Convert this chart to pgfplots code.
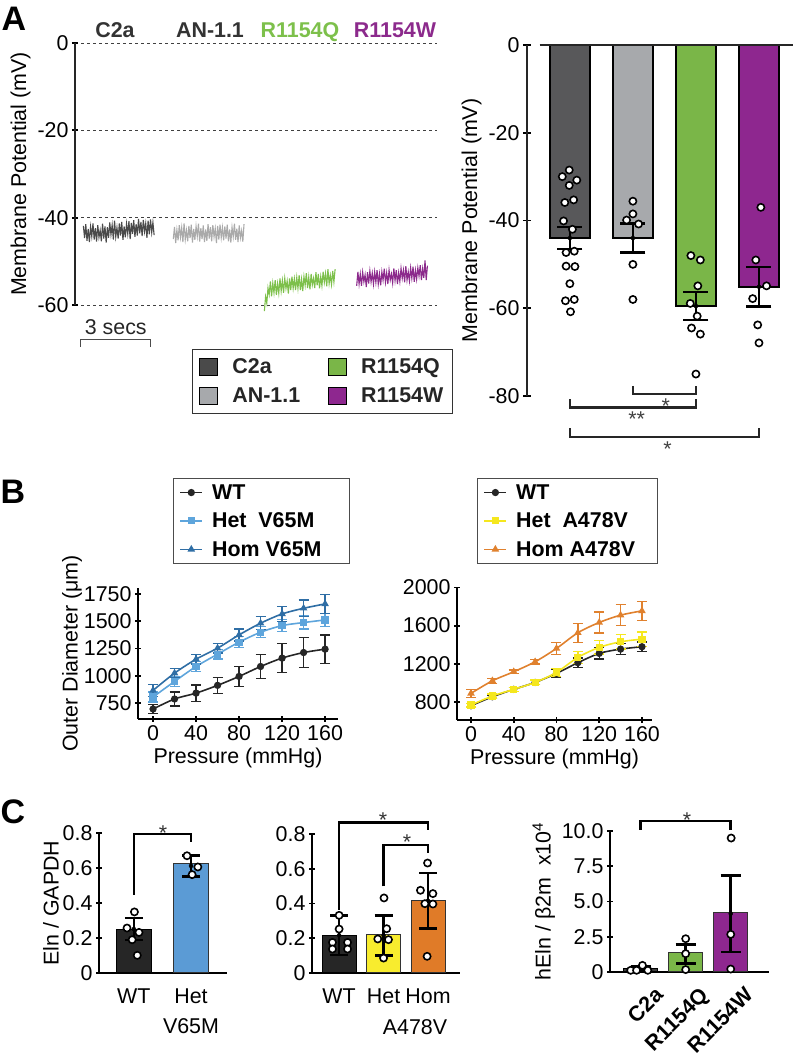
\documentclass[border=0pt]{standalone}
\usepackage{fontspec}
\setmainfont{Liberation Sans}
\usepackage{pgfplots}
\pgfplotsset{compat=1.18}
\newcommand\fs{\fontsize{21.4}{25}\selectfont}

\definecolor{trC}{HTML}{4A4A4A}
\definecolor{trA}{HTML}{AAAAAA}
\definecolor{trQ}{HTML}{7DC04B}
\definecolor{trW}{HTML}{8C2A8C}
\definecolor{barC}{HTML}{58585A}
\definecolor{barA}{HTML}{A7A9AC}
\definecolor{barQ}{HTML}{7AB648}
\definecolor{barW}{HTML}{8E278F}
\definecolor{wt}{HTML}{262626}
\definecolor{lblue}{HTML}{5EA5DC}
\definecolor{dblue}{HTML}{2F6EA5}
\definecolor{yel}{HTML}{F5E71E}
\definecolor{ora}{HTML}{E0812E}
\definecolor{cblue}{HTML}{5B9BD5}
\definecolor{cyel}{HTML}{F8EC2E}
\definecolor{cora}{HTML}{E07B28}
\definecolor{cgray}{HTML}{3D3D3D}

\pgfplotsset{
  base/.style={scale only axis, clip=false,
    axis line style={line width=2pt, black},
    tick style={line width=1.8pt, black}, major tick length=6pt, tick align=outside,
    tick label style={font=\fs}, label style={font=\fs},
    /pgf/number format/assume math mode=true,
    /pgf/number format/1000 sep={}, scaled ticks=false},
  noarr/.style={axis line style={-},
    every inner x axis line/.append style={-},
    every inner y axis line/.append style={-},
    every outer x axis line/.append style={-},
    every outer y axis line/.append style={-}},
  dots/.style={only marks, mark=*, mark size=3.6pt,
    mark options={fill=white, draw=black, line width=1.6pt}},
  errs/.style={only marks, mark=none, error bars/.cd, y dir=both, y explicit,
    error bar style={draw=black, line width=2.5pt},
    error mark options={rotate=90, mark size=#1, line width=2.5pt, draw=black}},
  curve/.style={line width=1.6pt, smooth, mark size=2.8pt, error bars/.cd,
    y dir=both, y explicit, error bar style={line width=1.3pt},
    error mark options={rotate=90, mark size=5pt, line width=1.3pt}},
  blegend/.style={legend style={font=\fs\bfseries, draw=black!70, line width=1pt,
    row sep=8pt, inner xsep=6pt, inner ysep=4pt,
    /tikz/every odd column/.append style={column sep=7pt}},
    legend cell align=left,
    legend image code/.code={\draw[mark repeat=2,mark phase=2,##1]
      plot coordinates {(0pt,0pt)(11pt,0pt)(22pt,0pt)};}},
  cticks/.style={xticklabel style={yshift=-9pt}},
}

\begin{document}
\begin{tikzpicture}[x=1pt,y=1pt]
\useasboundingbox (0,0) rectangle (793,1059);

% ---------- A: traces ----------
\begin{axis}[base, at={(75pt,754pt)}, anchor=south west, width=362pt, height=262pt,
  xmin=0, xmax=302, ymin=-60, ymax=0,
  axis y line=left, axis x line=none,
  y axis line style={line width=2.8pt, black!85},
  ytick={-60,-40,-20,0}, ymajorgrids,
  grid style={dashed, black!75, line width=0.9pt},
  ylabel={Membrane Potential (mV)},
  legend columns=2, legend cell align=left,
  legend style={at={(axis description cs:0.323,-0.168)}, anchor=north west,
    draw=black!80, line width=1pt, font=\fs\bfseries, text=black!85,
    /tikz/every odd column/.append style={column sep=12pt},
    /tikz/every even column/.append style={column sep=26pt},
    inner xsep=7pt, inner ysep=7pt, row sep=9pt},
  legend image code/.code={\fill[#1] (0pt,-8.5pt) rectangle (18pt,8.5pt);}, noarr]
\addlegendimage{fill=trC}\addlegendentry{C2a}
\addlegendimage{fill=barQ}\addlegendentry{R1154Q}
\addlegendimage{fill=barA}\addlegendentry{AN-1.1}
\addlegendimage{fill=barW}\addlegendentry{R1154W}

\addplot[trC, line width=1.1pt, forget plot] coordinates {
(7,-41.9)(8,-44.7)(9,-41.5)(10,-45.3)(11,-42.6)(12,-45.6)(13,-42.1)(14,-44.3)(15,-41.3)(16,-45.0)
(17,-42.4)(18,-45.5)(19,-41.7)(20,-44.5)(21,-42.9)(22,-45.4)(23,-41.4)(24,-44.8)(25,-42.0)(26,-45.7)
(27,-42.2)(28,-44.6)(29,-41.1)(30,-43.9)(31,-41.7)(32,-45.0)(33,-40.7)(34,-44.4)(35,-42.3)(36,-44.8)
(37,-41.3)(38,-44.1)(39,-41.0)(40,-45.1)(41,-42.0)(42,-44.5)(43,-41.4)(44,-43.7)(45,-40.8)(46,-44.9)
(47,-41.2)(48,-43.7)(49,-40.6)(50,-44.4)(51,-41.5)(52,-44.1)(53,-40.3)(54,-43.6)(55,-41.0)(56,-44.2)
(57,-40.5)(58,-43.2)(59,-41.3)(60,-44.6)(61,-40.7)(62,-43.8)(63,-40.4)(64,-43.4)(65,-41.1)(66,-44.0)};
\addplot[trA, line width=1.1pt, forget plot] coordinates {
(82,-44.9)(83,-42.1)(84,-45.8)(85,-42.8)(86,-45.2)(87,-41.7)(88,-44.5)(89,-42.3)(90,-45.6)(91,-41.3)
(92,-45.0)(93,-42.9)(94,-45.4)(95,-41.9)(96,-44.7)(97,-41.6)(98,-45.7)(99,-42.6)(100,-45.1)(101,-42.0)
(102,-44.3)(103,-41.4)(104,-45.5)(105,-42.4)(106,-44.9)(107,-41.8)(108,-45.6)(109,-42.7)(110,-45.3)(111,-41.5)
(112,-44.8)(113,-42.2)(114,-45.4)(115,-41.7)(116,-44.4)(117,-42.5)(118,-45.8)(119,-41.9)(120,-45.0)(121,-41.6)
(122,-44.6)(123,-42.3)(124,-45.2)(125,-42.0)(126,-44.8)(127,-41.6)(128,-45.4)(129,-42.7)(130,-45.7)(131,-42.2)
(132,-44.4)(133,-41.4)(134,-45.1)(135,-42.5)(136,-45.6)(137,-41.8)(138,-44.6)(139,-43.0)(140,-45.5)(141,-41.5)};
\addplot[trQ, line width=1.1pt, forget plot] coordinates {
(158,-61.4)(159,-58.1)(160,-59.6)(161,-56.1)(162,-57.6)(163,-54.6)(164,-58.0)(165,-55.0)(166,-57.2)(167,-54.3)
(168,-57.7)(169,-55.1)(170,-57.3)(171,-53.9)(172,-56.8)(173,-54.4)(174,-57.2)(175,-53.9)(176,-56.2)(177,-54.5)
(178,-57.4)(179,-53.9)(180,-56.6)(181,-53.5)(182,-56.2)(183,-54.0)(184,-56.6)(185,-53.7)(186,-56.2)(187,-53.2)
(188,-56.6)(189,-54.1)(190,-56.8)(191,-53.5)(192,-55.5)(193,-52.7)(194,-56.1)(195,-53.6)(196,-56.4)(197,-52.9)
(198,-55.4)(199,-53.9)(200,-56.1)(201,-52.5)(202,-55.5)(203,-52.9)(204,-56.2)(205,-53.5)(206,-55.6)(207,-52.4)
(208,-54.8)(209,-52.8)(210,-55.7)(211,-51.8)(212,-55.1)(213,-53.2)(214,-55.3)(215,-52.2)(216,-54.7)(217,-51.8)};
\addplot[trW, line width=1.1pt, forget plot] coordinates {
(235,-55.6)(236,-52.4)(237,-55.2)(238,-52.9)(239,-55.6)(240,-52.5)(241,-54.7)(242,-53.1)(243,-55.9)(244,-52.5)
(245,-55.1)(246,-52.2)(247,-54.7)(248,-52.7)(249,-55.2)(250,-52.4)(251,-54.8)(252,-52.0)(253,-55.2)(254,-52.9)
(255,-55.5)(256,-52.4)(257,-54.3)(258,-51.7)(259,-54.8)(260,-52.6)(261,-55.2)(262,-52.0)(263,-54.3)(264,-52.9)
(265,-55.0)(266,-51.6)(267,-54.4)(268,-52.0)(269,-55.2)(270,-52.6)(271,-54.6)(272,-51.6)(273,-53.9)(274,-52.0)
(275,-54.8)(276,-51.1)(277,-54.3)(278,-52.4)(279,-54.5)(280,-51.5)(281,-53.9)(282,-51.2)(283,-54.7)(284,-52.0)
(285,-54.1)(286,-51.5)(287,-53.4)(288,-50.9)(289,-54.3)(290,-51.7)(291,-53.8)(292,-49.8)(293,-54.3)(294,-51.0)};

\draw[line width=1pt, black!70] (axis cs:5,-69.6) -- (axis cs:5,-67.8) -- (axis cs:63.4,-67.8) -- (axis cs:63.4,-69.6);
\node[font=\fs, text=black!85] at (axis cs:34,-65) {3 secs};
\end{axis}

% ---------- A: bars ----------
\begin{axis}[base, at={(527pt,663pt)}, anchor=south west, width=266pt, height=351pt,
  xmin=-0.68, xmax=3.54, ymin=-80, ymax=0,
  axis y line=left, axis x line=none, major tick length=8pt,
  y axis line style={line width=2.5pt, black!85},
  ytick={-80,-60,-40,-20,0},
  ylabel={Membrane Potential (mV)}, noarr]
\addplot[ybar, bar width=40pt, bar shift=0pt, fill=barC, draw=black, line width=2pt] coordinates {(0,-44.0)};
\addplot[ybar, bar width=40pt, bar shift=0pt, fill=barA, draw=black, line width=2pt] coordinates {(1,-44.0)};
\addplot[ybar, bar width=40pt, bar shift=0pt, fill=barQ, draw=black, line width=2pt] coordinates {(2,-59.5)};
\addplot[ybar, bar width=40pt, bar shift=0pt, fill=barW, draw=black, line width=2pt] coordinates {(3,-55.1)};
\addplot[errs=12.5pt] coordinates {(0,-44.0) +- (0,2.5) (1,-44.0) +- (0,3.3) (2,-59.5) +- (0,3.2) (3,-55.1) +- (0,4.5)};
\addplot[dots] coordinates {
(-0.01,-28.5)(-0.12,-30.0)(0.11,-30.8)(-0.01,-32.0)(0.06,-35.3)(-0.08,-35.9)(-0.10,-40.1)(0.04,-42.0)
(-0.06,-47.3)(0.07,-47.0)(-0.06,-50.4)(0.08,-50.5)(0.00,-54.4)(-0.07,-58.3)(0.07,-58.0)(0.01,-60.8)
(1.00,-35.6)(1.00,-38.5)(0.90,-39.9)(1.09,-40.8)(1.00,-50.0)(1.00,-58.0)
(1.92,-48.0)(2.07,-49.0)(2.03,-54.9)(1.91,-58.9)(2.02,-61.8)(1.93,-64.5)(2.07,-65.9)(2.00,-75.0)
(3.03,-37.0)(2.95,-49.0)(3.12,-54.9)(2.90,-57.8)(2.98,-63.8)(3.00,-67.9)};
\draw[line width=2.5pt, black!85] (axis cs:-0.48,0) -- (axis cs:3.54,0);
\draw[line width=2.5pt, black!85] (axis cs:1,-77.7) -- (axis cs:1,-79.6) -- (axis cs:2,-79.6) -- (axis cs:2,-77.7);
\draw[line width=2.5pt, black!85] (axis cs:0,-80.7) -- (axis cs:0,-82.6) -- (axis cs:2,-82.6) -- (axis cs:2,-80.7);
\draw[line width=2.5pt, black!85] (axis cs:0,-87.4) -- (axis cs:0,-89.3) -- (axis cs:3,-89.3) -- (axis cs:3,-87.4);
\node[font=\fs, text=black!75, yshift=-4pt] at (axis cs:1.52,-81.5) {*};
\node[font=\fs, text=black!75, yshift=-4pt] at (axis cs:1.06,-84.3) {**};
\node[font=\fs, text=black!75, yshift=-4pt] at (axis cs:1.55,-91.3) {*};
\end{axis}

% ---------- B: V65M ----------
\begin{axis}[base, blegend, at={(138pt,340pt)}, anchor=south west, width=200pt, height=131pt,
  xmin=-14, xmax=172, ymin=603.5, ymax=1805,
  axis x line=bottom, axis y line=left,
  xtick={0,40,80,120,160}, ytick={750,1000,1250,1500,1750},
  xlabel={Pressure (mmHg)}, ylabel={Outer Diameter (μm)}, ylabel shift=-5pt,
  legend style={at={(axis description cs:0.175,1.84)}, anchor=north west}, noarr]
\addplot[wt, mark=*, curve] coordinates {
(0,695) +- (0,40) (20,787) +- (0,65) (40,841) +- (0,75) (60,912) +- (0,75) (80,994) +- (0,90)
(100,1085) +- (0,110) (120,1162) +- (0,135) (140,1213) +- (0,135) (160,1244) +- (0,130)};
\addlegendentry{WT}
\addplot[lblue, mark=square*, curve] coordinates {
(0,805) +- (0,45) (20,948) +- (0,45) (40,1085) +- (0,45) (60,1198) +- (0,45) (80,1308) +- (0,50)
(100,1399) +- (0,50) (120,1460) +- (0,55) (140,1488) +- (0,60) (160,1512) +- (0,60)};
\addlegendentry{Het\ \ V65M}
\addplot[dblue, mark=triangle*, curve] coordinates {
(0,866) +- (0,53) (20,1024) +- (0,40) (40,1152) +- (0,45) (60,1253) +- (0,45) (80,1375) +- (0,55)
(100,1482) +- (0,60) (120,1567) +- (0,70) (140,1619) +- (0,75) (160,1659) +- (0,85)};
\addlegendentry{Hom V65M\hspace{20pt}\mbox{}}
\end{axis}

% ---------- B: A478V ----------
\begin{axis}[base, blegend, at={(457pt,339pt)}, anchor=south west, width=195pt, height=133pt,
  xmin=-13.1, xmax=169.4, ymin=608, ymax=2006,
  axis x line=bottom, axis y line=left,
  xtick={0,40,80,120,160}, ytick={800,1200,1600,2000},
  xlabel={Pressure (mmHg)},
  legend style={at={(axis description cs:0.103,1.82)}, anchor=north west}, noarr]
\addplot[wt, mark=*, curve] coordinates {
(0,758) +- (0,20) (20,852) +- (0,20) (40,930) +- (0,20) (60,1003) +- (0,25) (80,1098) +- (0,40)
(100,1210) +- (0,50) (120,1308) +- (0,60) (140,1353) +- (0,60) (160,1378) +- (0,50)};
\addlegendentry{WT}
\addplot[yel, mark=square*, curve] coordinates {
(0,765) +- (0,20) (20,860) +- (0,20) (40,930) +- (0,20) (60,1003) +- (0,25) (80,1108) +- (0,40)
(100,1266) +- (0,65) (120,1371) +- (0,70) (140,1430) +- (0,75) (160,1458) +- (0,75)};
\addlegendentry{Het\ \ A478V}
\addplot[ora, mark=triangle*, curve] coordinates {
(0,888) +- (0,40) (20,1020) +- (0,25) (40,1115) +- (0,20) (60,1220) +- (0,25) (80,1360) +- (0,60)
(100,1525) +- (0,100) (120,1633) +- (0,110) (140,1710) +- (0,110) (160,1755) +- (0,100)};
\addlegendentry{Hom A478V\hspace{14pt}\mbox{}}
\end{axis}

% ---------- C: Eln V65M ----------
\begin{axis}[base, cticks, at={(99pt,86pt)}, anchor=south west, width=128pt, height=140pt,
  xmin=-0.61, xmax=1.63, ymin=0, ymax=0.8,
  axis x line=bottom, axis y line=left,
  xtick={0,1}, xticklabels={WT,{Het\\V65M}},
  xticklabel style={align=center, font=\fontsize{21.4}{30}\selectfont},
  x tick style={draw=none},
  ytick={0,0.2,0.4,0.6,0.8}, yticklabels={0,0.2,0.4,0.6,0.8},
  ylabel={Eln / GAPDH}, ylabel shift=-3pt, noarr]
\addplot[ybar, bar width=35pt, bar shift=0pt, fill=wt, draw=black, line width=1pt] coordinates {(0,0.251)};
\addplot[ybar, bar width=35pt, bar shift=0pt, fill=cblue, draw=black!80, line width=1pt] coordinates {(1,0.623)};
\addplot[errs=9pt] coordinates {(0,0.251) +- (0,0.063) (1,0.612) +- (0,0.060)};
\addplot[dots] coordinates {(0.01,0.349)(-0.12,0.257)(0.09,0.232)(-0.03,0.190)(0.06,0.101)
(0.93,0.670)(1.12,0.606)(1.02,0.562)};
\draw[line width=2.5pt] (axis cs:0,0.448) -- (axis cs:0,0.794) -- (axis cs:1,0.794) -- (axis cs:1,0.747);
\node[font=\fs, text=black!80, yshift=-4pt] at (axis cs:0.51,0.823) {*};
\end{axis}

% ---------- C: Eln A478V ----------
\begin{axis}[base, cticks, at={(312pt,86pt)}, anchor=south west, width=148pt, height=139pt,
  xmin=-0.61, xmax=2.72, ymin=0, ymax=0.8,
  axis x line=bottom, axis y line=left,
  xtick={0,1,2}, xticklabels={WT,Het,Hom}, x tick style={draw=none},
  ytick={0,0.2,0.4,0.6,0.8}, yticklabels={0,0.2,0.4,0.6,0.8}, noarr]
\addplot[ybar, bar width=34pt, bar shift=0pt, fill=wt, draw=black, line width=1pt] coordinates {(0,0.217)};
\addplot[ybar, bar width=34pt, bar shift=0pt, fill=cyel, draw=black!80, line width=1pt] coordinates {(1,0.221)};
\addplot[ybar, bar width=34pt, bar shift=0pt, fill=cora, draw=black!80, line width=1pt] coordinates {(2,0.416)};
\addplot[errs=9pt] coordinates {(0,0.217) +- (0,0.113) (1,0.216) +- (0,0.116) (2,0.416) +- (0,0.159)};
\addplot[dots] coordinates {(0,0.332)(0,0.253)(-0.15,0.176)(0.19,0.176)(-0.15,0.138)(0.19,0.138)
(1.01,0.432)(1.07,0.255)(0.87,0.196)(1.11,0.192)(1.00,0.086)
(1.99,0.633)(1.83,0.476)(2.11,0.457)(1.93,0.399)(2.11,0.397)(1.98,0.096)};
\draw[line width=2.5pt] (axis cs:0,0.364) -- (axis cs:0,0.867) -- (axis cs:2,0.867) -- (axis cs:2,0.825);
\draw[line width=2.5pt] (axis cs:1,0.499) -- (axis cs:1,0.737) -- (axis cs:2,0.737) -- (axis cs:2,0.690);
\node[font=\fs, text=black!80, yshift=-4pt] at (axis cs:0.99,0.904) {*};
\node[font=\fs, text=black!80, yshift=-4pt] at (axis cs:1.53,0.777) {*};
\end{axis}

% ---------- C: hEln ----------
\begin{axis}[base, at={(610pt,87pt)}, anchor=south west, width=159pt, height=141pt,
  xmin=-0.68, xmax=2.85, ymin=0, ymax=10,
  axis x line=bottom, axis y line=left,
  xtick={0,1,2}, xticklabels={C2a,R1154Q,R1154W}, x tick style={draw=none},
  xticklabel style={xshift=13pt, yshift=-6pt, rotate=45, anchor=north east, font=\fs\bfseries},
  ytick={0,2.5,5,7.5,10}, yticklabels={0,2.5,5.0,7.5,10.0},
  ylabel={hEln / β2m\ \ x10\textsuperscript{4}}, noarr]
\addplot[ybar, bar width=34pt, bar shift=0pt, fill=cgray, draw=black, line width=1pt] coordinates {(0,0.28)};
\addplot[ybar, bar width=34pt, bar shift=0pt, fill=barQ, draw=black!80, line width=1pt] coordinates {(1,1.35)};
\addplot[ybar, bar width=34pt, bar shift=0pt, fill=barW, draw=black!80, line width=1pt] coordinates {(2,4.21)};
\addplot[errs=10pt] coordinates {(0,0.28) +- (0,0.10) (1,1.27) +- (0,0.67) (2,4.14) +- (0,2.72)};
\addplot[dots] coordinates {(-0.22,0.12)(-0.09,0.12)(0.04,0.47)(0.16,0.12)
(1,2.36)(1,1.30)(1,0.17)(2.01,9.50)(2,2.67)(2,0.21)};
\draw[line width=2.5pt] (axis cs:0,10.09) -- (axis cs:0,10.7) -- (axis cs:2,10.7) -- (axis cs:2,10.09);
\node[font=\fs, text=black!80, yshift=-4pt] at (axis cs:1.03,11.06) {*};
\end{axis}

% ---------- free text ----------
\node[font=\fs\bfseries, text=black!80, anchor=base] at (115,1021) {C2a};
\node[font=\fs\bfseries, text=black!80, anchor=base] at (210,1021) {AN-1.1};
\node[font=\fs\bfseries, text=trQ, anchor=base] at (300,1021) {R1154Q};
\node[font=\fs\bfseries, text=trW, anchor=base] at (395,1021) {R1154W};
\node[font=\fs] at (415,32) {A478V};
\node[font=\fontsize{34}{34}\selectfont\bfseries] at (14,1040) {A};
\node[font=\fontsize{34}{34}\selectfont\bfseries] at (13,567) {B};
\node[font=\fontsize{34}{34}\selectfont\bfseries] at (13,247) {C};
\end{tikzpicture}
\end{document}
